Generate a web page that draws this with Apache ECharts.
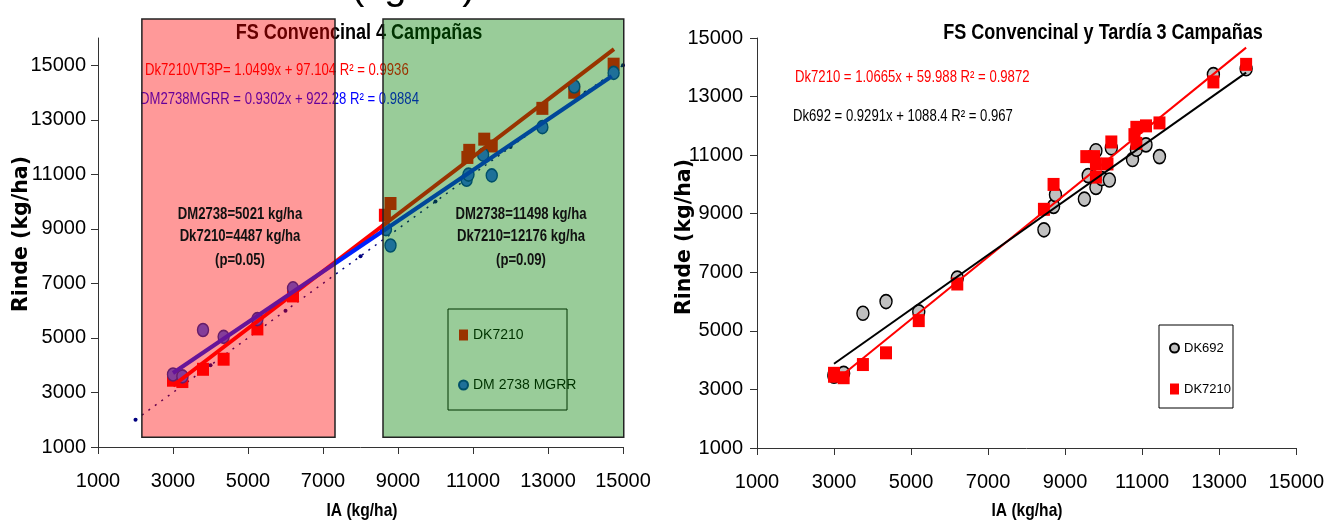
<!DOCTYPE html>
<html><head><meta charset="utf-8">
<script src="https://cdn.jsdelivr.net/npm/echarts@6/dist/echarts.min.js"></script>
<style>html,body{margin:0;padding:0;background:#fff}#c{width:1327px;height:520px}</style>
</head><body><div id="c"></div>
<script>
// ================= DATA =================
// Left panel: "FS Convencinal 4 Campañas"  [IA (kg/ha), Rinde (kg/ha)]
const leftDK7210 = [[3000,3450],[3250,3400],[3800,3850],[4350,4220],[5250,5330],[6200,6540],
  [8650,9500],[8800,9930],[10850,11620],[10900,11880],[11300,12290],[11500,12040],[12850,13420],[13700,14010],[14750,15040]];
const leftDM2738 = [[3000,3660],[3250,3590],[3800,5290],[4350,5040],[5250,5690],[6200,6820],
  [8680,8990],[8800,8390],[10830,10800],[10880,10990],[11270,11720],[11500,10960],[12850,12730],[13700,14220],[14750,14720]];
const leftRefLine = [[2000,2000],[4000,4000],[6000,6000],[8000,8000],[10000,10000],[12000,12000],[14000,14000],[15000,15000]];
const leftTrendDK7210 = [[3000,3247],[14760,15594]];
const leftTrendDM2738 = [[3000,3713],[14700,14597]];
// shaded zones: [xFrom, xTo, yFrom, yTo]
const leftZones = [[2170,7320,1360,16700],[8600,15020,1360,16700]];

// Right panel: "FS Convencinal y Tardía 3 Campañas"
const rightDK692 = [[3000,3500],[3000,3450],[3250,3550],[3750,5600],[4350,6000],[5200,5650],[6200,6800],
  [8450,8450],[8700,9250],[8750,9650],[9500,9500],[9600,10300],[9800,9900],[9800,11150],[9950,10200],
  [10150,10150],[10200,11250],[10750,10850],[10850,11200],[11100,11350],[11450,10950],[12850,13750],[13700,13950]];
const rightDK7210 = [[3000,3450],[3000,3550],[3250,3400],[3750,3850],[4350,4250],[5200,5350],[6200,6600],
  [8450,9150],[8700,10000],[9550,10950],[9750,10950],[9800,10700],[9800,10250],[10100,10700],[10200,11450],
  [10800,11700],[10850,11950],[10850,11400],[11100,12000],[11450,12100],[12850,13500],[13700,14100]];
const rightTrendDK7210 = [[3000,3260],[13700,14671]];
const rightTrendDK692 = [[3000,3876],[13700,13817]];

const xTicks = [1000,3000,5000,7000,9000,11000,13000,15000];
const yTicks = [1000,3000,5000,7000,9000,11000,13000,15000];

// ================= STYLE =================
const SANS = "'Liberation Sans',Arial,sans-serif";
const BOLDWIDE = "'DejaVu Sans',sans-serif";
const NARROW_X = 0.82;
const zoneColors = ['rgba(255,0,0,0.4)','rgba(0,128,0,0.4)'];

function axisCommon(gi, isY, min, max, margin){
  return {
    gridIndex: gi, type: 'value', min: min, max: max,
    axisLine: {show: true, onZero: false, lineStyle: {color: '#333', width: 1}},
    axisTick: {show: true, length: 7, customValues: isY ? yTicks : xTicks, lineStyle: {color: '#333'}},
    axisLabel: {customValues: isY ? yTicks : xTicks, fontFamily: SANS, fontSize: 20, color: '#000', margin: margin,
      formatter: function (v) { return String(v); }},
    splitLine: {show: false}
  };
}

const chart = echarts.init(document.getElementById('c'), null, {renderer: 'canvas'});
// narrow-looking text: regular sans squeezed horizontally
const txt = (id, text, x, y, opt) => Object.assign({
  type: 'text', id: id, x: x, y: y, z: 1, scaleX: NARROW_X,
  style: Object.assign({text: text, fill: '#000', font: '16px ' + SANS, align: 'left', verticalAlign: 'middle'}, opt && opt.style || {})
}, opt && opt.extra || {});

const option = {
  animation: false,
  backgroundColor: '#fff',
  grid: [
    {left: 98, top: 38, width: 525, height: 409},
    {left: 757, top: 38, width: 543, height: 410}
  ],
  xAxis: [axisCommon(0, false, 1000, 15000, 24), axisCommon(1, false, 1000, 15000, 24)],
  yAxis: [axisCommon(0, true, 1000, 16000, 12), axisCommon(1, true, 1000, 15000, 14)],
  legend: [
    {orient: 'vertical', left: 453, top: 322, itemGap: 34, itemWidth: 9, itemHeight: 11, itemTextGap: 4,
     textStyle: {fontFamily: SANS, fontSize: 14, color: '#000', lineHeight: 16},
     data: [{name: 'DK7210', icon: 'rect'}, {name: 'DM 2738 MGRR', icon: 'circle'}], selectedMode: false},
    {orient: 'vertical', left: 1164, top: 335, itemGap: 25, itemWidth: 9, itemHeight: 11, itemTextGap: 3,
     textStyle: {fontFamily: SANS, fontSize: 13, color: '#000', lineHeight: 16},
     data: [{name: 'DK692', icon: 'circle'}, {name: 'DK7210 ', icon: 'rect'}], selectedMode: false}
  ],
  series: [
    {type: 'line', xAxisIndex: 0, yAxisIndex: 0, data: leftRefLine, z: 1,
     lineStyle: {color: '#000080', width: 1.5, type: [2, 6]}, symbol: 'circle', symbolSize: 4,
     itemStyle: {color: '#000080'}},
    {name: 'DK7210', type: 'scatter', xAxisIndex: 0, yAxisIndex: 0, data: leftDK7210, z: 2,
     symbol: 'rect', symbolSize: [12, 13], itemStyle: {color: '#FF0000', opacity: 1}},
    {name: 'DM 2738 MGRR', type: 'scatter', xAxisIndex: 0, yAxisIndex: 0, data: leftDM2738, z: 2,
     symbol: 'circle', symbolSize: [11, 13], itemStyle: {color: '#3366FF', borderColor: '#0030B0', borderWidth: 1.5, opacity: 1}},
    {type: 'line', xAxisIndex: 0, yAxisIndex: 0, data: leftTrendDK7210, z: 3, symbol: 'none',
     lineStyle: {color: '#FF0000', width: 4}},
    {type: 'line', xAxisIndex: 0, yAxisIndex: 0, data: leftTrendDM2738, z: 3, symbol: 'none',
     lineStyle: {color: '#0022FF', width: 4}},
    {type: 'custom', xAxisIndex: 0, yAxisIndex: 0, data: leftZones, z: 10, clip: false, silent: true,
     renderItem: function (params, api) {
       const a = api.coord([api.value(0), api.value(3)]);
       const b = api.coord([api.value(1), api.value(2)]);
       return {type: 'rect', shape: {x: a[0], y: a[1], width: b[0] - a[0], height: b[1] - a[1]},
         style: {fill: zoneColors[params.dataIndex], stroke: '#222', lineWidth: 1.5}};
     }},
    {name: 'DK692', type: 'scatter', xAxisIndex: 1, yAxisIndex: 1, data: rightDK692, z: 2,
     symbol: 'circle', symbolSize: [12, 14], itemStyle: {color: '#C0C0C0', borderColor: '#000', borderWidth: 1.5, opacity: 1}},
    {name: 'DK7210 ', type: 'scatter', xAxisIndex: 1, yAxisIndex: 1, data: rightDK7210, z: 2,
     symbol: 'rect', symbolSize: [12, 13], itemStyle: {color: '#FF0000', opacity: 1}},
    {type: 'line', xAxisIndex: 1, yAxisIndex: 1, data: rightTrendDK7210, z: 3, symbol: 'none',
     lineStyle: {color: '#FF0000', width: 2}},
    {type: 'line', xAxisIndex: 1, yAxisIndex: 1, data: rightTrendDK692, z: 3, symbol: 'none',
     lineStyle: {color: '#000', width: 2}}
  ],
  graphic: {elements: [
    txt('topcut', '(kg/ha)', 351, -32, {style: {font: '40px ' + SANS, verticalAlign: 'top'}, extra: {scaleX: 1}}),
    txt('t1', 'FS Convencinal 4 Campañas', 359, 33, {style: {font: 'bold 22px ' + SANS, align: 'center'}}),
    txt('e1', 'Dk7210VT3P= 1.0499x + 97.104 R² = 0.9936', 145, 71, {style: {fill: '#FF0000'}}),
    txt('e2', 'DM2738MGRR = 0.9302x + 922.28 R² = 0.9884', 140, 100, {style: {fill: '#0000FF'}}),
    txt('s1', 'DM2738=5021 kg/ha', 240, 215, {style: {font: 'bold 16px ' + SANS, align: 'center', fill: '#111'}, extra: {z: 20}}),
    txt('s2', 'Dk7210=4487 kg/ha', 240, 237, {style: {font: 'bold 16px ' + SANS, align: 'center', fill: '#111'}, extra: {z: 20}}),
    txt('s3', '(p=0.05)', 240, 261, {style: {font: 'bold 16px ' + SANS, align: 'center', fill: '#111'}, extra: {z: 20}}),
    txt('s4', 'DM2738=11498 kg/ha', 521, 215, {style: {font: 'bold 16px ' + SANS, align: 'center', fill: '#111'}, extra: {z: 20}}),
    txt('s5', 'Dk7210=12176 kg/ha', 521, 237, {style: {font: 'bold 16px ' + SANS, align: 'center', fill: '#111'}, extra: {z: 20}}),
    txt('s6', '(p=0.09)', 521, 261, {style: {font: 'bold 16px ' + SANS, align: 'center', fill: '#111'}, extra: {z: 20}}),
    {type: 'rect', id: 'lg1', z: 1, shape: {x: 448, y: 309, width: 119, height: 101}, style: {fill: 'none', stroke: '#000', lineWidth: 1}},
    txt('yl1', 'Rinde (kg/ha)', 22, 234, {style: {font: 'bold 20.5px ' + BOLDWIDE, align: 'center'}, extra: {rotation: Math.PI / 2, scaleX: 1}}),
    txt('xl1', 'IA (kg/ha)', 362, 511, {style: {font: 'bold 19px ' + SANS, align: 'center'}}),
    // right panel
    txt('t2', 'FS Convencinal y Tardía 3 Campañas', 1103, 33, {style: {font: 'bold 22px ' + SANS, align: 'center'}}),
    txt('e3', 'Dk7210 = 1.0665x + 59.988 R² = 0.9872', 795, 78, {style: {fill: '#FF0000'}}),
    txt('e4', 'Dk692 = 0.9291x + 1088.4 R² = 0.967', 793, 117, {style: {fill: '#000'}}),
    {type: 'rect', id: 'lg2', z: 1, shape: {x: 1159, y: 325, width: 74, height: 83}, style: {fill: 'none', stroke: '#000', lineWidth: 1}},
    txt('yl2', 'Rinde (kg/ha)', 685, 237, {style: {font: 'bold 20.5px ' + BOLDWIDE, align: 'center'}, extra: {rotation: Math.PI / 2, scaleX: 1}}),
    txt('xl2', 'IA (kg/ha)', 1027, 511, {style: {font: 'bold 19px ' + SANS, align: 'center'}})
  ]}
};
chart.setOption(option);
</script>
</body></html>
